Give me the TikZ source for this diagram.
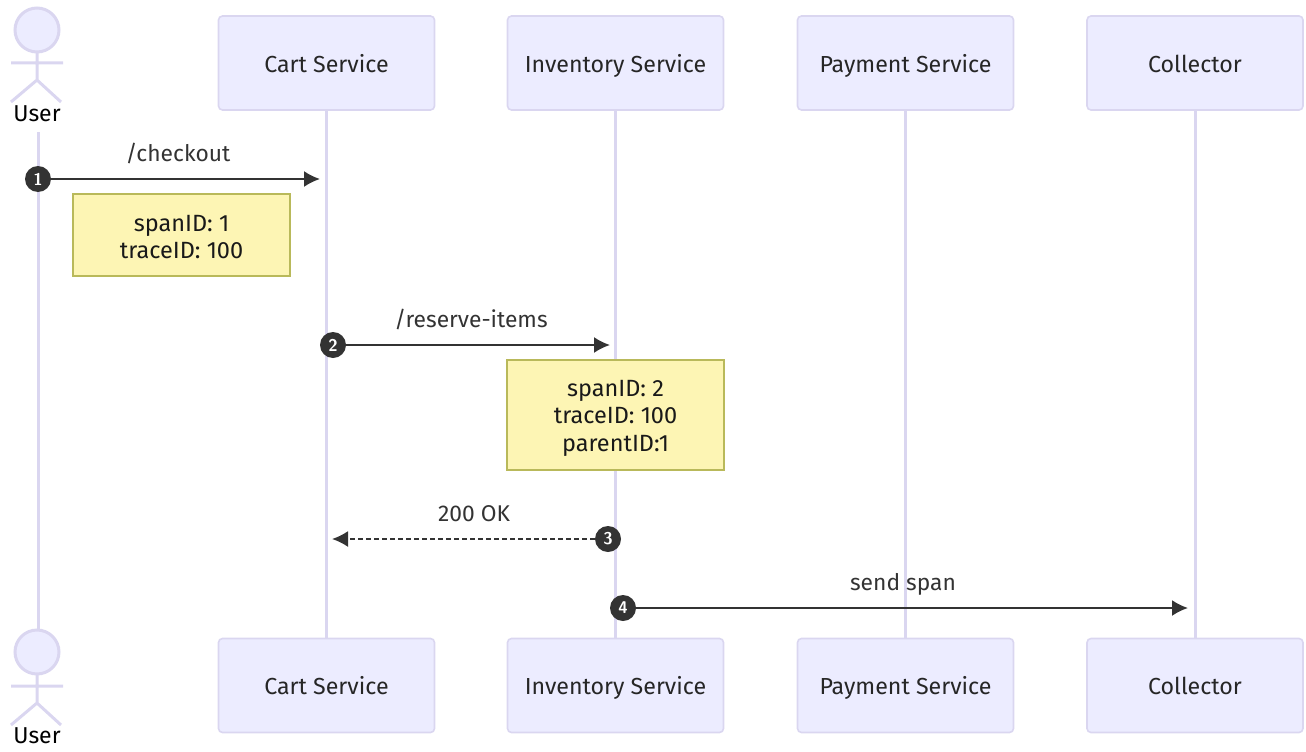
\documentclass[tikz,border=0pt]{standalone}
\usepackage{fontspec}
\setmainfont{Fira Sans}
\usetikzlibrary{arrows.meta}
\definecolor{actorfill}{HTML}{ECECFF}
\definecolor{actorline}{HTML}{DAD6F0}
\definecolor{notefill}{HTML}{FDF5B4}
\definecolor{noteline}{HTML}{B9B95A}
\definecolor{msgcol}{HTML}{333333}
\tikzset{
  actorbox/.style={draw=actorline,fill=actorfill,line width=1.6pt,rounded corners=4pt,minimum width=216pt,minimum height=94pt,text=black!85,font=\fontsize{23.2}{27}\selectfont,inner sep=0pt,text height=20pt,text depth=2pt},
  lifeline/.style={draw=actorline,line width=3pt},
  stickman/.style={draw=actorline,line width=3pt,fill=actorfill},
  notebox/.style={draw=noteline,fill=notefill,line width=1.2pt,minimum width=217pt,text=black!90,align=center,font=\fontsize{23.5}{27.5}\selectfont,inner sep=0pt},
  msg/.style={draw=msgcol,line width=2pt,-{Latex[length=16pt,width=16pt]}},
  msglabel/.style={text=msgcol,font=\fontsize{22.8}{27}\selectfont,inner sep=0pt},
  seqnum/.style={circle,fill=msgcol,text=white,minimum size=26pt,inner sep=0pt,font=\fontsize{17}{19}\sffamily\bfseries\selectfont},
  userlabel/.style={text=black,font=\fontsize{23}{27}\selectfont,inner sep=0pt},
}
\begin{document}
\begin{tikzpicture}[x=1pt,y=-1pt]
\useasboundingbox (0,0) rectangle (1306,752);
\foreach \n/\x in {cart/326.5,inv/615.5,pay/905.5,col/1195}{
  \coordinate (\n Tc) at (\x,63);
  \coordinate (\n Bc) at (\x,685.5);
}
\coordinate (userT) at (38,132);
\coordinate (userB) at (38,630);
\draw[lifeline] (userT) -- (userB);
\draw[lifeline] (cartTc) -- (cartBc);
\draw[lifeline] (invTc) -- (invBc);
\draw[lifeline] (payTc) -- (payBc);
\draw[lifeline] (colTc) -- (colBc);
\foreach \n/\t in {cart/Cart Service,inv/Inventory Service,pay/Payment Service,col/Collector}{
  \node[actorbox] (\n T) at (\n Tc) {\t};
  \node[actorbox] (\n B) at (\n Bc) {\t};
}
\draw[stickman] (37,30) circle (22);
\draw[lifeline] (37,52) -- (37,80) (11,63) -- (63,63) (11,102) -- (37,80) -- (61,102);
\node[userlabel] (userTl) at (37,114) {User};
\draw[stickman] (37,652) circle (22);
\draw[lifeline] (37,674) -- (37,703) (11,686) -- (63,686) (11,725) -- (37,703) -- (61,725);
\node[userlabel] (userBl) at (37,736) {User};
\node[notebox,minimum height=82pt] (note1) at (181.5,235) {\rule{0pt}{20pt}spanID: 1\\traceID: 100};
\node[notebox,minimum height=110pt] (note2) at (615.5,415) {\rule{0pt}{22pt}spanID: 2\\traceID: 100\\parentID:1};
\node[seqnum] (n1) at (38,179) {1};
\coordinate (t1) at (320,179);
\draw[msg] (n1) -- (t1);
\node[msglabel] (l1) at (178,153.5) {/checkout};
\node[seqnum] (n2) at (333,345) {2};
\coordinate (t2) at (610,345);
\draw[msg] (n2) -- (t2);
\node[msglabel] (l2) at (471,319.5) {/reserve-items};
\node[seqnum] (n3) at (608,539) {3};
\coordinate (t3) at (332,539);
\draw[msg,dash pattern=on 5pt off 3pt] (n3) -- (t3);
\node[msglabel] (l3) at (474,513.5) {200 OK};
\node[seqnum] (n4) at (623,608) {4};
\coordinate (t4) at (1188,608);
\draw[msg] (n4) -- (t4);
\node[msglabel] (l4) at (903,584) {send span};
\end{tikzpicture}
\end{document}
